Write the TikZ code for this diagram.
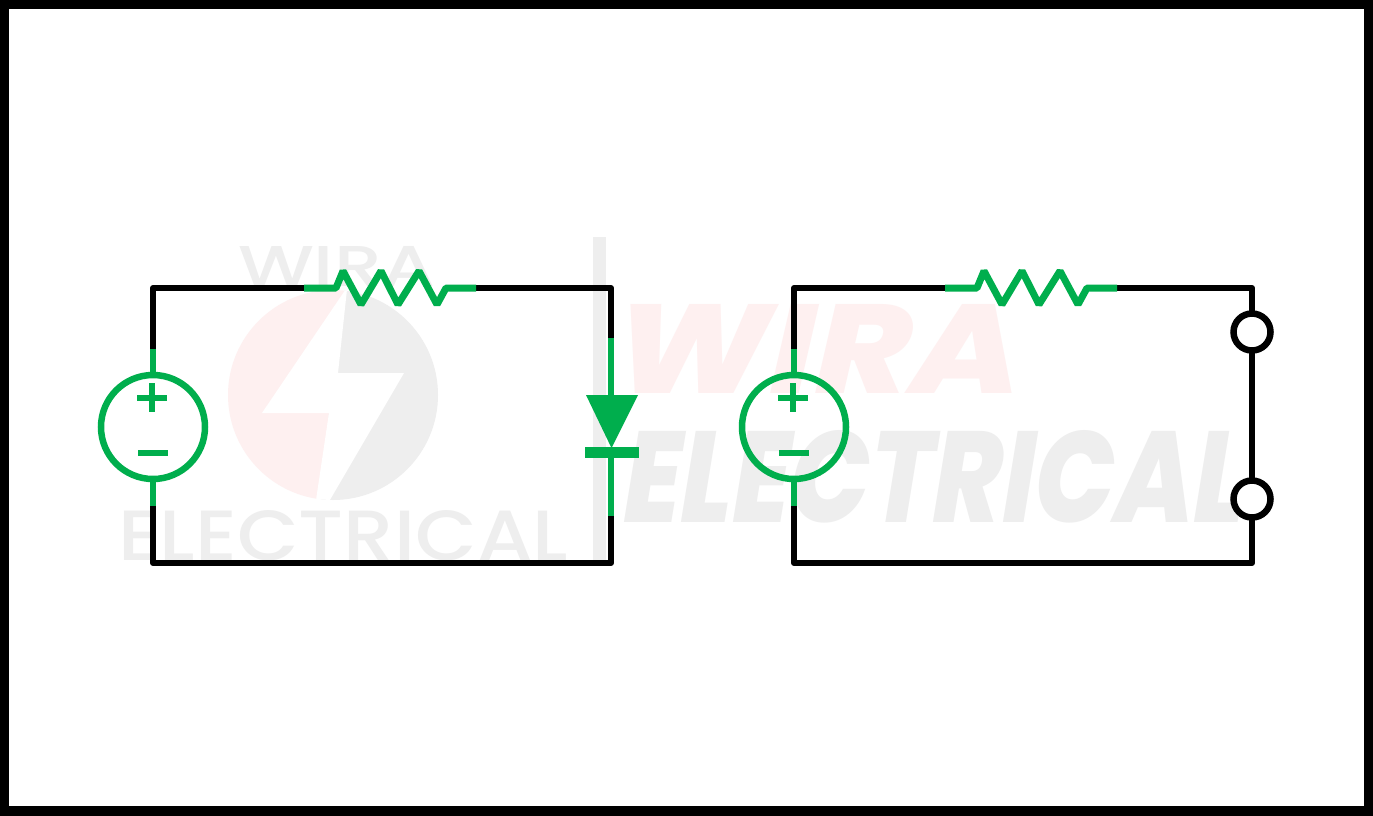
\documentclass[tikz,border=0pt]{standalone}
\usepackage{fontspec}
\usepackage{graphicx}
\newfontfamily\wmlight{Poppins Medium}
\newfontfamily\wmbold[FakeSlant=0.2]{Poppins ExtraBold}
\definecolor{wgreen}{HTML}{00AE4D}
\definecolor{wgrey}{HTML}{EEEEEE}
\definecolor{wpink}{HTML}{FEF0F0}
\tikzset{
  wire/.style={line width=6.2pt,draw=black,line join=round,line cap=round},
  gwire/.style={line width=6.2pt,draw=wgreen,line join=round,line cap=butt},
  rwire/.style={line width=7pt,draw=wgreen,line join=bevel,line cap=butt},
  srcnode/.style={circle,draw=wgreen,line width=6.5pt,fill=none,minimum size=104pt,inner sep=0pt,outer sep=0pt},
  term/.style={circle,draw=black,line width=6.5pt,fill=white,minimum size=37pt,inner sep=0pt,outer sep=0pt},
  wm/.style={inner sep=0pt,outer sep=0pt,anchor=north west},
  sym/.style={line width=5.5pt,draw=wgreen,line cap=butt}
}
\begin{document}
\begin{tikzpicture}[x=1pt,y=-1pt]
\useasboundingbox (0,0) rectangle (1373,815);
\fill[white] (0,0) rectangle (1373,815);
% watermark left
\begin{scope}
\clip (333,395) circle (105);
\fill[wpink] (200,270) -- (347,270) -- (329,413) -- (316,510) -- (200,510) -- cycle;
\fill[wgrey] (347,270) -- (480,270) -- (480,510) -- (320,510) -- (329,413) -- cycle;
\fill[white] (352,280) -- (262,413) -- (329,413) -- (316,500) -- (327,505) -- (404,373) -- (338,373) -- (348,280) -- cycle;
\end{scope}
\node[wm,text=wgrey] (wmwiraa) at (238,246) {\resizebox{197pt}{40pt}{\wmlight WIRA}};
\node[wm,text=wgrey] (wmeleca) at (118,510) {\resizebox{450pt}{50pt}{\wmlight ELECTRICAL}};
\fill[wgrey] (593,237) rectangle (606,560);
% watermark right
\node[wm,text=wpink] (wmwirab) at (606,304) {\resizebox{407pt}{89pt}{\wmbold WIRA}};
\node[wm,text=wgrey] (wmelecb) at (618,430) {\resizebox{622pt}{92pt}{\wmbold ELECTRICAL}};

% left circuit
\coordinate (a1) at (153,288);
\coordinate (a2) at (611,288);
\coordinate (a3) at (611,563);
\coordinate (a4) at (153,563);
\coordinate (rl1) at (304,288);
\coordinate (rl2) at (476,288);
\node[srcnode] (s1) at (153,427) {};
\coordinate (s1t) at (153,349);
\coordinate (s1b) at (153,506);
\coordinate (d1t) at (611,338);
\coordinate (d1b) at (611,516);
\draw[wire] (s1t) -- (a1) -- (rl1);
\draw[wire] (rl2) -- (a2) -- (d1t);
\draw[wire] (d1b) -- (a3) -- (a4) -- (s1b);
\draw[gwire] (s1t) -- (s1.north);
\draw[gwire] (s1.south) -- (s1b);
\draw[sym] (137,398) -- (167,398);
\draw[sym] (152,383) -- (152,412);
\draw[sym,line width=6pt] (138,453) -- (168,453);
\draw[rwire] (rl1) -- (336,288) -- (343,271) -- (361,304.5) -- (381,271) -- (398,304.5) -- (419,271) -- (437,304.5) -- (446,288) -- (rl2);
\draw[gwire] (d1t) -- (611,400);
\draw[gwire] (611,458) -- (d1b);
\fill[wgreen] (586,395) -- (638,395) -- (611.5,448) -- cycle;
\fill[wgreen] (585,447) rectangle (639,458);

% right circuit
\coordinate (b1) at (794,288);
\coordinate (b2) at (1252,288);
\coordinate (b3) at (1252,563);
\coordinate (b4) at (794,563);
\coordinate (rr1) at (945,288);
\coordinate (rr2) at (1117,288);
\node[srcnode] (s2) at (794,427) {};
\coordinate (s2t) at (794,349);
\coordinate (s2b) at (794,506);
\draw[wire] (s2t) -- (b1) -- (rr1);
\draw[wire] (rr2) -- (b2) -- (b3) -- (b4) -- (s2b);
\draw[gwire] (s2t) -- (s2.north);
\draw[gwire] (s2.south) -- (s2b);
\draw[sym] (778,398) -- (808,398);
\draw[sym] (793,383) -- (793,412);
\draw[sym,line width=6pt] (779,453) -- (809,453);
\draw[rwire] (rr1) -- (977,288) -- (984,271) -- (1002,304.5) -- (1022,271) -- (1039,304.5) -- (1060,271) -- (1078,304.5) -- (1087,288) -- (rr2);
\node[term] (t1) at (1252,332) {};
\node[term] (t2) at (1252,499) {};
% frame
\draw[line width=18pt,draw=black] (0,0) rectangle (1373,815);
\end{tikzpicture}
\end{document}
